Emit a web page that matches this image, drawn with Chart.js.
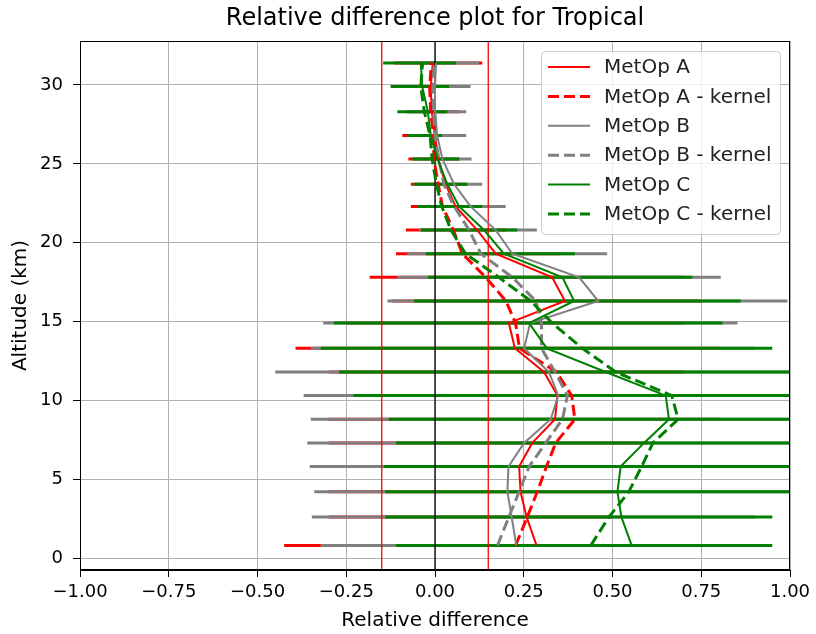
<!DOCTYPE html>
<html>
<head>
<meta charset="utf-8">
<script src="https://cdn.jsdelivr.net/npm/chart.js@4.4.0/dist/chart.umd.min.js"></script>
<style>
  html, body { margin: 0; padding: 0; background: #fff; }
</style>
</head>
<body>
<canvas id="tropical" width="816" height="634"></canvas>
<script>
// altitude levels (km)
var altitude = [0.8, 2.6, 4.2, 5.8, 7.3, 8.8, 10.3, 11.8, 13.3, 14.9, 16.3,
                17.8, 19.3, 20.8, 22.3, 23.7, 25.3, 26.8, 28.3, 29.9, 31.4];

// relative differences per level
var metop_a   = [0.286, 0.258, 0.241, 0.237, 0.274, 0.338, 0.345, 0.307, 0.225, 0.208, 0.366,
                 0.330, 0.171, 0.119, 0.058, 0.030, 0.009, 0.000, -0.009, -0.012, -0.006];
var metop_a_k = [0.227, 0.260, 0.288, 0.314, 0.340, 0.394, 0.385, 0.342, 0.238, 0.227, 0.200,
                 0.143, 0.077, 0.052, 0.021, 0.009, -0.003, -0.004, -0.012, -0.015, -0.010];
var metop_b   = [0.229, 0.216, 0.204, 0.207, 0.251, 0.326, 0.347, 0.321, 0.251, 0.268, 0.460,
                 0.406, 0.218, 0.171, 0.100, 0.054, 0.021, 0.006, 0.001, 0.000, 0.003];
var metop_b_k = [0.176, 0.208, 0.237, 0.265, 0.312, 0.359, 0.373, 0.338, 0.300, 0.300, 0.284,
                 0.218, 0.129, 0.096, 0.054, 0.025, 0.011, 0.000, -0.004, -0.006, -0.002];
var metop_c   = [0.554, 0.525, 0.514, 0.523, 0.589, 0.659, 0.650, 0.481, 0.315, 0.265, 0.392,
                 0.359, 0.194, 0.138, 0.068, 0.035, 0.007, -0.012, -0.020, -0.036, -0.040];
var metop_c_k = [0.439, 0.490, 0.546, 0.582, 0.614, 0.685, 0.667, 0.509, 0.415, 0.330, 0.270,
                 0.180, 0.086, 0.045, 0.019, 0.004, -0.008, -0.014, -0.030, -0.040, -0.035];

// error bar extents (low / high) per level
var metop_a_lo = [-0.425, -0.30, -0.30, -0.30, -0.30, -0.30, -0.30, -0.30, -0.393, -0.25, -0.12,
                  -0.184, -0.11, -0.082, -0.068, -0.068, -0.075, -0.092, -0.08, -0.09, -0.115];
var metop_a_hi = [0.50, 0.50, 0.50, 0.55, 0.60, 0.80, 0.80, 0.70, 0.80, 0.70, 0.75,
                  0.70, 0.35, 0.20, 0.12, 0.09, 0.07, 0.06, 0.07, 0.08, 0.133];
var metop_b_lo = [-0.322, -0.347, -0.34, -0.353, -0.36, -0.35, -0.37, -0.45, -0.35, -0.315, -0.134,
                  -0.106, -0.078, -0.045, -0.05, -0.055, -0.06, -0.06, -0.07, -0.08, -0.10];
var metop_b_hi = [0.85, 0.90, 1.20, 1.20, 1.20, 1.20, 1.20, 1.20, 0.90, 0.852, 0.993,
                  0.805, 0.485, 0.287, 0.199, 0.133, 0.103, 0.088, 0.088, 0.10, 0.124];
var metop_c_lo = [-0.11, -0.14, -0.14, -0.144, -0.11, -0.13, -0.23, -0.27, -0.322, -0.285, -0.059,
                  -0.02, -0.026, -0.04, -0.05, -0.059, -0.064, -0.078, -0.106, -0.125, -0.146];
var metop_c_hi = [0.95, 0.95, 1.30, 1.30, 1.30, 1.30, 1.30, 1.30, 0.95, 0.81, 0.861,
                  0.725, 0.394, 0.232, 0.133, 0.091, 0.068, 0.02, 0.035, 0.04, 0.059];

var x_ticks = [-1, -0.75, -0.5, -0.25, 0, 0.25, 0.5, 0.75, 1];
var y_ticks = [0, 5, 10, 15, 20, 25, 30];
var limit_lines = [-0.15, 0.15];

var FONT = 'DejaVu Sans';
var TITLE = 'Relative difference plot for Tropical';
var RED = '#ff0000', GRAY = '#808080', GREEN = '#008000';

var series = [
  ['MetOp A', metop_a, RED, false],
  ['MetOp A - kernel', metop_a_k, RED, true],
  ['MetOp B', metop_b, GRAY, false],
  ['MetOp B - kernel', metop_b_k, GRAY, true],
  ['MetOp C', metop_c, GREEN, false],
  ['MetOp C - kernel', metop_c_k, GREEN, true]
];
var error_bars = [
  [metop_a_lo, metop_a_hi, RED],
  [metop_b_lo, metop_b_hi, GRAY],
  [metop_c_lo, metop_c_hi, GREEN]
];

function make_datasets()
{
  return series.map(function (s, i) {
    return {
      label: s[0],
      data: altitude.map(function (a, j) { return {x: s[1][j], y: a}; }),
      showLine: true,
      borderColor: s[2],
      backgroundColor: s[2],
      borderWidth: s[3] ? 3 : 2,
      borderDash: s[3] ? [11, 5] : [],
      pointRadius: 0,
      tension: 0,
      fill: false,
      order: series.length - 1 - i
    };
  });
}

// horizontal error bars and the reference verticals, under the profile lines
var errorbar_plugin = {
  id: 'errorbars',
  beforeDatasetsDraw: function (chart) {
    var ctx = chart.ctx, area = chart.chartArea;
    var xs = chart.scales.x, ys = chart.scales.y;
    ctx.save();
    ctx.beginPath();
    ctx.rect(area.left, area.top, area.right - area.left, area.bottom - area.top);
    ctx.clip();
    ctx.lineWidth = 3;
    ctx.lineCap = 'butt';
    error_bars.forEach(function (e) {
      ctx.strokeStyle = e[2];
      for (var i = 0; i < altitude.length; i++) {
        var y = ys.getPixelForValue(altitude[i]);
        ctx.beginPath();
        ctx.moveTo(xs.getPixelForValue(e[0][i]), y);
        ctx.lineTo(xs.getPixelForValue(e[1][i]), y);
        ctx.stroke();
      }
    });
    ctx.lineWidth = 1.3;
    ctx.strokeStyle = RED;
    limit_lines.forEach(function (v) {
      var x = xs.getPixelForValue(v);
      ctx.beginPath(); ctx.moveTo(x, area.top); ctx.lineTo(x, area.bottom); ctx.stroke();
    });
    ctx.strokeStyle = '#000';
    var x0 = xs.getPixelForValue(0);
    ctx.beginPath(); ctx.moveTo(x0, area.top); ctx.lineTo(x0, area.bottom); ctx.stroke();
    ctx.restore();
  },
  afterDraw: function (chart) {
    var ctx = chart.ctx, area = chart.chartArea;
    ctx.save();
    // frame
    ctx.strokeStyle = '#000';
    ctx.lineWidth = 1;
    ctx.strokeRect(area.left + 0.5, area.top + 0.5, area.right - area.left - 1, area.bottom - area.top - 1);
    // title centred over the axes
    ctx.fillStyle = '#000';
    ctx.font = '24px "' + FONT + '"';
    ctx.textAlign = 'center';
    ctx.textBaseline = 'middle';
    ctx.fillText(TITLE, (area.left + area.right) / 2, area.top - 22);
    // legend box, upper right
    var w = 239, h = 183, bx = area.right - 10 - w, by = area.top + 10;
    ctx.fillStyle = 'rgba(255,255,255,0.8)';
    ctx.strokeStyle = '#cccccc';
    ctx.beginPath();
    ctx.roundRect(bx + 0.5, by + 0.5, w, h, 4);
    ctx.fill();
    ctx.stroke();
    ctx.font = '20px "' + FONT + '"';
    ctx.textAlign = 'left';
    chart.data.datasets.forEach(function (d, i) {
      var y = by + 16 + i * 29.4;
      ctx.strokeStyle = d.borderColor;
      ctx.lineWidth = d.borderWidth;
      ctx.setLineDash(d.borderDash);
      ctx.beginPath(); ctx.moveTo(bx + 7, y); ctx.lineTo(bx + 49, y); ctx.stroke();
      ctx.setLineDash([]);
      ctx.fillStyle = '#222';
      ctx.fillText(d.label, bx + 63, y + 1);
    });
    ctx.restore();
  }
};

function tick_label(v)
{
  return v.toFixed(2).replace('-', '\u2212');
}

window.onload = function ()
{
  new Chart(document.getElementById('tropical').getContext('2d'), {
    type: 'scatter',
    data: { datasets: make_datasets() },
    plugins: [errorbar_plugin],
    options: {
      responsive: false,
      animation: false,
      layout: { padding: { left: 0, right: 26, top: 41, bottom: 0 } },
      plugins: {
        legend: { display: false },
        tooltip: { enabled: false },
        title: { display: false }
      },
      scales: {
        x: {
          type: 'linear', min: -1, max: 1,
          afterBuildTicks: function (s) { s.ticks = x_ticks.map(function (v) { return {value: v}; }); },
          afterFit: function (s) { s.height = 64; },
          grid: { color: '#b0b0b0', lineWidth: 1, tickColor: '#000', tickLength: 7 },
          border: { color: '#000', width: 1 },
          ticks: { callback: tick_label, color: '#000', font: { family: FONT, size: 18 },
                   padding: 5, maxRotation: 0, autoSkip: false },
          title: { display: true, text: 'Relative difference', color: '#000',
                   font: { family: FONT, size: 20 }, padding: { top: 0, bottom: 1 } }
        },
        y: {
          type: 'linear', min: -0.76, max: 32.79,
          afterBuildTicks: function (s) { s.ticks = y_ticks.map(function (v) { return {value: v}; }); },
          afterFit: function (s) { s.width = 80; },
          grid: { color: '#b0b0b0', lineWidth: 1, tickColor: '#000', tickLength: 7 },
          border: { color: '#000', width: 1 },
          ticks: { callback: function (v) { return String(v); }, color: '#000',
                   font: { family: FONT, size: 18 }, padding: 10, autoSkip: false },
          title: { display: true, text: 'Altitude (km)', color: '#000',
                   font: { family: FONT, size: 20 }, padding: { top: 9, bottom: 0 } }
        }
      }
    }
  });
};
</script>
</body>
</html>
